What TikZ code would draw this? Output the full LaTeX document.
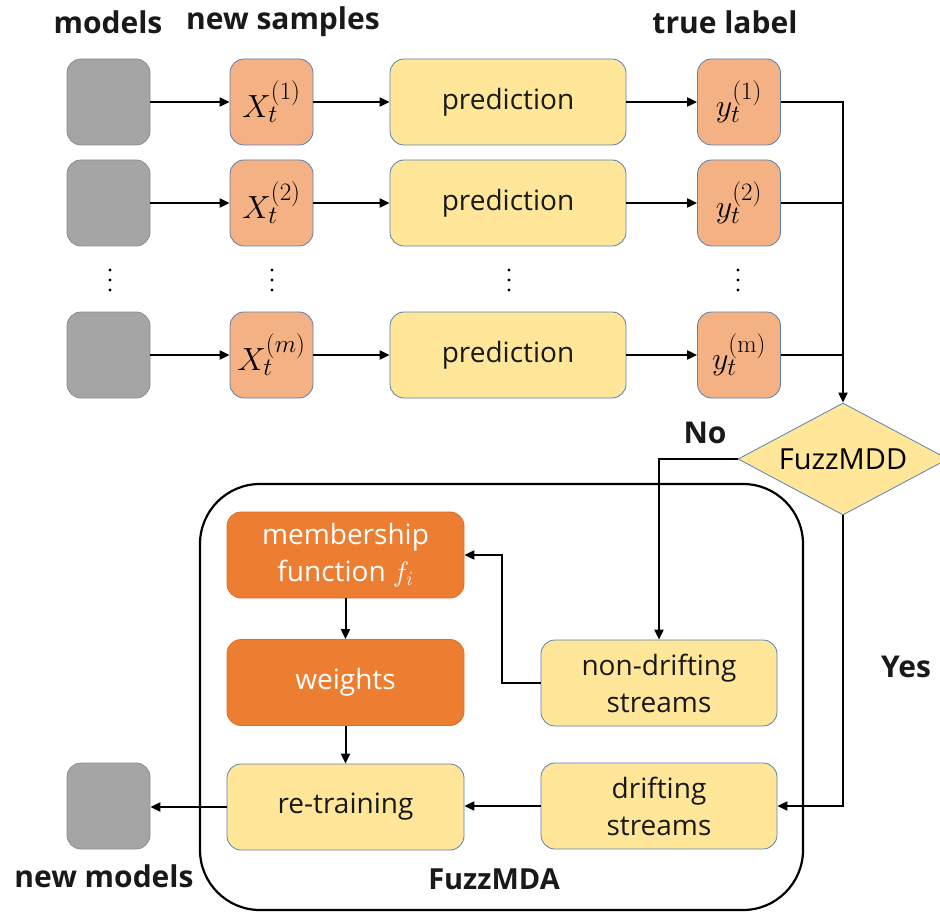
\RequirePackage{fix-cm}
\documentclass[tikz,border=0pt]{standalone}
\usepackage[no-math]{fontspec}
\setmainfont{Open Sans}
\usetikzlibrary{arrows.meta,shapes.geometric}
\DeclareMathSizes{32}{32}{25}{18}

\definecolor{modelgray}{HTML}{A5A5A5}
\definecolor{modeledge}{HTML}{8C8C8C}
\definecolor{salmon}{HTML}{F4B183}
\definecolor{paleyellow}{HTML}{FFE699}
\definecolor{boxblue}{HTML}{5B80B0}
\definecolor{deeporange}{HTML}{ED7D31}
\definecolor{orangeedge}{HTML}{D8712B}

\begin{document}
\begin{tikzpicture}[x=1pt,y=-1pt,
  basebox/.style={rounded corners=14pt, line width=0.8pt, inner sep=2pt,
    font=\fontsize{28}{37}\selectfont, align=center},
  modelbox/.style={basebox, draw=modeledge, fill=modelgray,
    minimum width=83pt, minimum height=86pt},
  databox/.style={basebox, draw=boxblue, fill=salmon,
    minimum width=83pt, minimum height=86pt, font=\fontsize{32}{38}\selectfont},
  procbox/.style={basebox, draw=boxblue, fill=paleyellow, text=black!90,
    minimum width=236pt, minimum height=86pt},
  fuzzbox/.style={basebox, draw=orangeedge, fill=deeporange, text=white,
    minimum width=237pt, minimum height=86pt},
  header/.style={font=\fontsize{30}{36}\selectfont\bfseries, text=black!90},
  conn/.style={line width=2pt, -{Triangle[length=10pt,width=9pt]}},
  wire/.style={line width=2pt}
]
\useasboundingbox (0,0) rectangle (940,912);

% column headers
\node[header] (hmod) at (108,22) {models};
\node[header] (hsmp) at (283,22) {new samples};
\node[header] (hlab) at (725,22) {true label};

% the m parallel streams
\foreach \r/\yy/\idx in {1/102/(1), 2/203/(2), 3/355/(m)} {
  \node[modelbox] (m\r) at (108.5,\yy) {};
  \node[databox]  (x\r) at (271.5,\yy) {$X_t^{\idx}$};
  \node[procbox]  (p\r) at (508,\yy) {prediction};
  \draw[conn] (m\r) -- (x\r);
  \draw[conn] (x\r) -- (p\r);
}
\node[databox] (l1) at (739,102) {$y_t^{(1)}$};
\node[databox] (l2) at (739,203) {$y_t^{(2)}$};
\node[databox] (l3) at (739,355) {$y_t^{(\mathrm{m})}$};
\foreach \r in {1,2,3} { \draw[conn] (p\r) -- (l\r); }

% vertical ellipses between stream 2 and stream m
\foreach \cx in {110,272,509,738} {
  \foreach \cy in {270,280,290} { \fill (\cx,\cy) circle (1.6pt); }
}

% drift detector
\node[diamond, draw=boxblue, fill=paleyellow, line width=0.8pt,
  minimum width=210pt, minimum height=112pt, aspect=1.875, inner sep=1pt,
  font=\fontsize{29}{32}\selectfont] (fz) at (843,459) {FuzzMDD};

\draw[conn] (l1.east) -| (fz.north);
\draw[wire] (l2.east) -- (l2.east -| fz.north);
\draw[wire] (l3.east) -- (l3.east -| fz.north);

% adaptation module
\draw[line width=2.2pt, rounded corners=60pt] (200,484) rectangle (803,910);
\node[header, font=\fontsize{29}{34}\selectfont\bfseries] (mda) at (494,879) {FuzzMDA};

\node[fuzzbox] (mem) at (345.5,555) {membership\\function $f_i$};
\node[fuzzbox] (wt)  at (345.5,682.5) {weights};
\node[procbox, minimum width=237pt] (rt) at (345.5,807) {re-training};
\node[procbox] (nd) at (659,683) {non-drifting\\streams};
\node[procbox] (ds) at (659,806) {drifting\\streams};
\node[modelbox] (nm) at (108.5,806) {};
\node[header] (nml) at (104,876) {new models};

\draw[conn] (mem) -- (wt);
\draw[conn] (wt) -- (rt);
\draw[conn] (nd.west) -- ++(-39,0) |- (mem.east);
\draw[conn] (ds.west) -- (ds.west -| rt.east);
\draw[conn] (rt.west) -- (rt.west -| nm.east);

% detector outcomes
\draw[conn] (fz.west) -| (nd.north);
\node[header] (no) at (705,433) {No};
\draw[conn] (fz.south) |- (ds.east);
\node[header] (yes) at (906,667) {Yes};
\end{tikzpicture}
\end{document}
